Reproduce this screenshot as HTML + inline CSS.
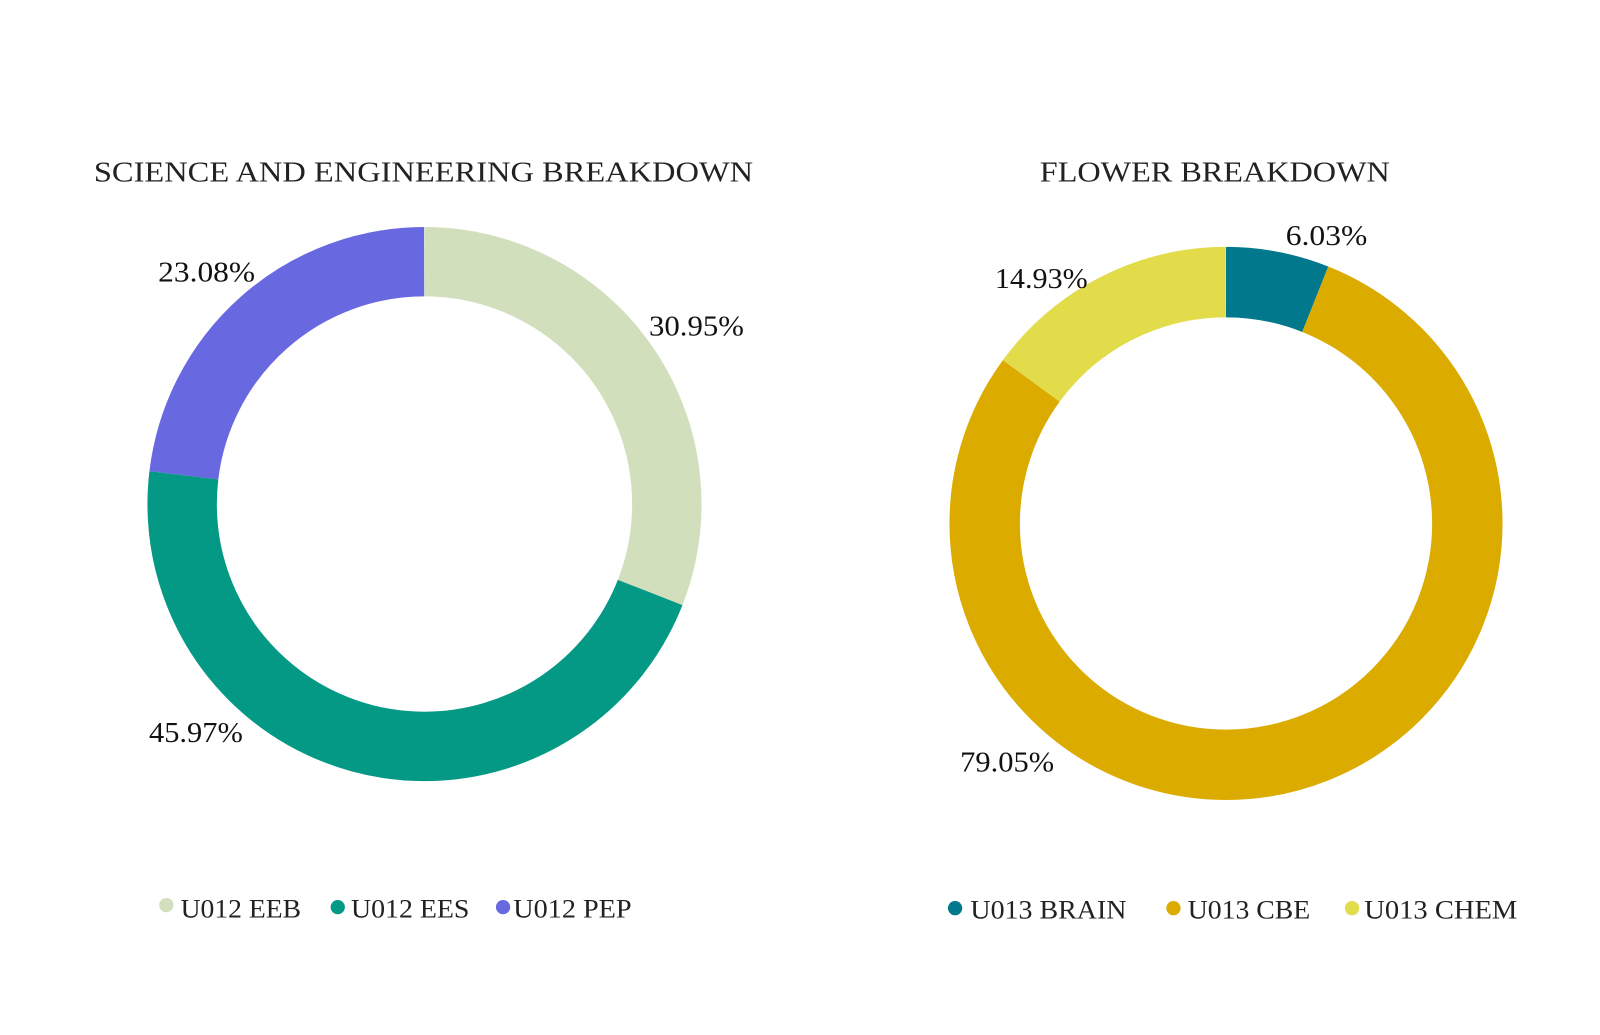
<!DOCTYPE html>
<html><head><meta charset="utf-8"><style>
body{margin:0;background:#fff;}
svg{display:block;font-family:"Liberation Serif",serif;}
</style></head><body>
<svg width="1600" height="1035" viewBox="0 0 1600 1035">
<rect width="1600" height="1035" fill="#fff"/>
<g transform="scale(1.0204)">
<text x="92" y="178" font-size="28" textLength="646" lengthAdjust="spacingAndGlyphs" fill="#222">SCIENCE AND ENGINEERING BREAKDOWN</text>
<text x="1019" y="178" font-size="28" textLength="343" lengthAdjust="spacingAndGlyphs" fill="#222">FLOWER BREAKDOWN</text>
<g transform="rotate(-90 416 494)" fill="none" stroke-width="68">
<circle cx="416" cy="494" r="237.5" pathLength="100" stroke="#d2dfbd" stroke-dasharray="30.95 100" stroke-dashoffset="0"/>
<circle cx="416" cy="494" r="237.5" pathLength="100" stroke="#039985" stroke-dasharray="45.97 100" stroke-dashoffset="-30.95"/>
<circle cx="416" cy="494" r="237.5" pathLength="100" stroke="#6868e0" stroke-dasharray="23.08 100" stroke-dashoffset="-76.92"/>
</g>
<g transform="rotate(-90 1201.5 513)" fill="none" stroke-width="69">
<circle cx="1201.5" cy="513" r="236.5" pathLength="100" stroke="#02788c" stroke-dasharray="6.03 100" stroke-dashoffset="0"/>
<circle cx="1201.5" cy="513" r="236.5" pathLength="100" stroke="#dbab00" stroke-dasharray="79.05 100" stroke-dashoffset="-6.03"/>
<circle cx="1201.5" cy="513" r="236.5" pathLength="100" stroke="#e2dc4a" stroke-dasharray="14.93 100" stroke-dashoffset="-85.08"/>
</g>
<g font-size="28" fill="#111">
<text x="155" y="276" textLength="95" lengthAdjust="spacingAndGlyphs">23.08%</text>
<text x="636" y="329" textLength="93" lengthAdjust="spacingAndGlyphs">30.95%</text>
<text x="146" y="727" textLength="92" lengthAdjust="spacingAndGlyphs">45.97%</text>
<text x="1260" y="240" textLength="80" lengthAdjust="spacingAndGlyphs">6.03%</text>
<text x="975" y="282" textLength="91" lengthAdjust="spacingAndGlyphs">14.93%</text>
<text x="941" y="756" textLength="92" lengthAdjust="spacingAndGlyphs">79.05%</text>
</g>
<g font-size="26" fill="#222">
<circle cx="163" cy="887" r="7" fill="#d2dfbd"/><text x="177" y="899" textLength="118" lengthAdjust="spacingAndGlyphs">U012 EEB</text>
<circle cx="331" cy="889" r="7" fill="#039985"/><text x="344" y="899" textLength="116" lengthAdjust="spacingAndGlyphs">U012 EES</text>
<circle cx="493" cy="889" r="7" fill="#6868e0"/><text x="503" y="899" textLength="116" lengthAdjust="spacingAndGlyphs">U012 PEP</text>
<circle cx="936" cy="890" r="7" fill="#02788c"/><text x="951" y="900" textLength="153" lengthAdjust="spacingAndGlyphs">U013 BRAIN</text>
<circle cx="1150" cy="890" r="7" fill="#dbab00"/><text x="1164" y="900" textLength="120" lengthAdjust="spacingAndGlyphs">U013 CBE</text>
<circle cx="1325" cy="890" r="7" fill="#e2dc4a"/><text x="1337" y="900" textLength="150" lengthAdjust="spacingAndGlyphs">U013 CHEM</text>
</g>
</g>
</svg>
</body></html>
